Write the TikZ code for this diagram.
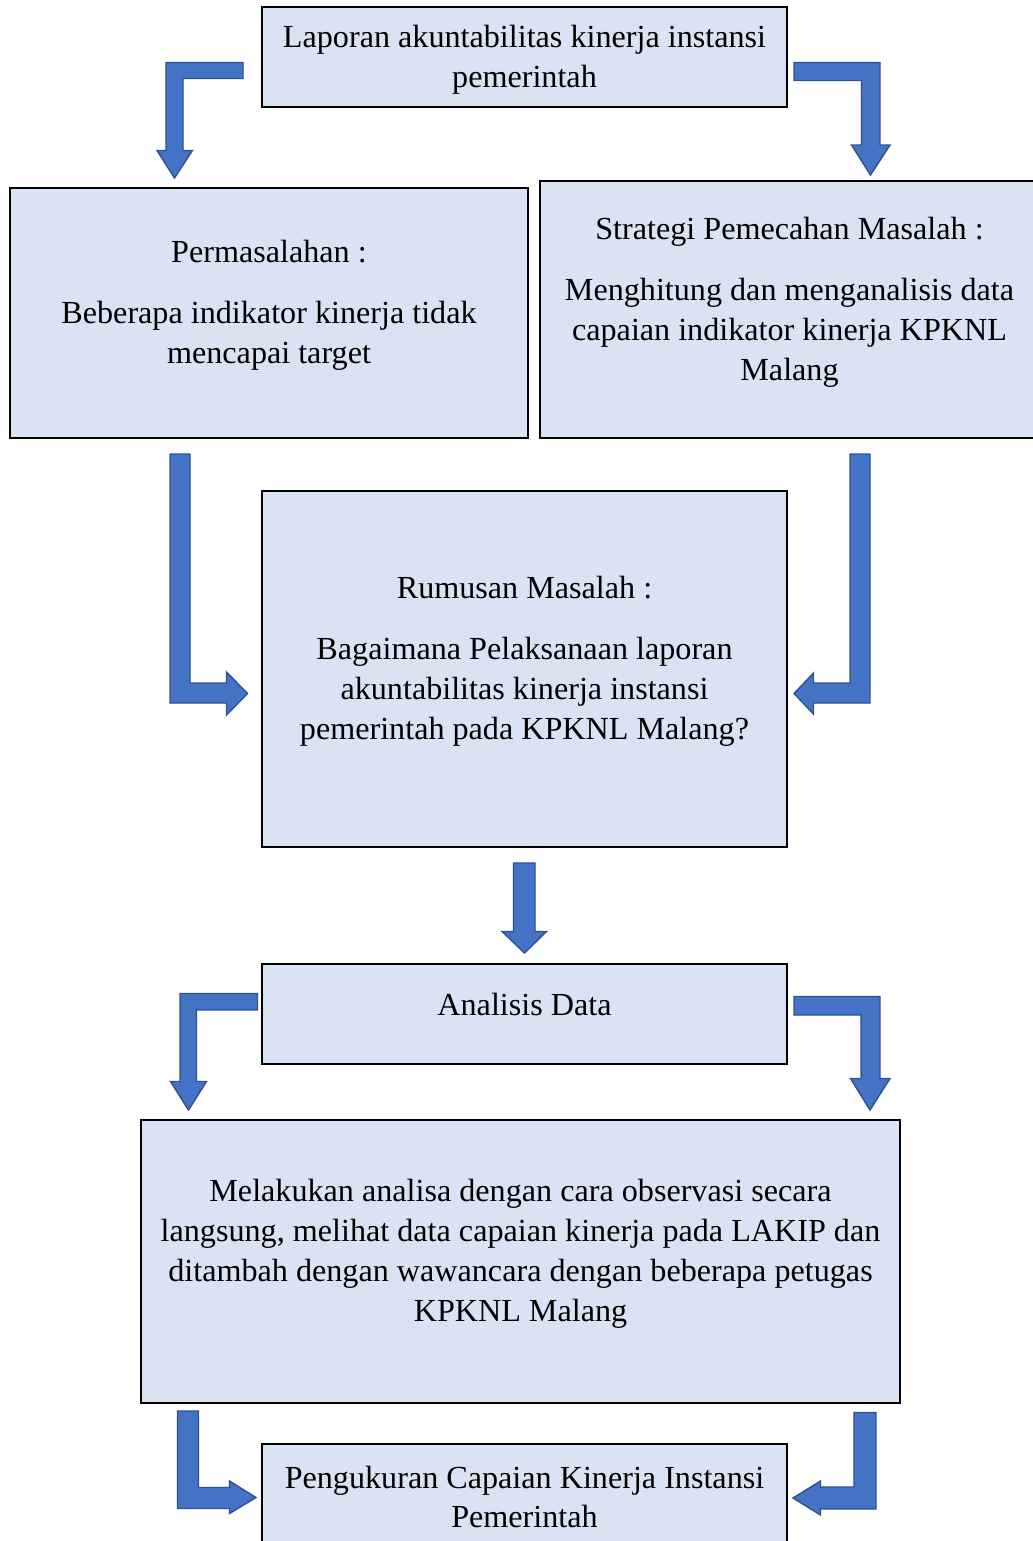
\documentclass[tikz,border=0pt]{standalone}
\usepackage{fontspec}
\setmainfont{Liberation Serif}
\usepackage{tikz}
\usetikzlibrary{calc}
\definecolor{boxfill}{HTML}{DAE3F3}
\definecolor{arrowfill}{HTML}{4472C4}
\definecolor{arrowedge}{HTML}{2F528F}
\tikzset{
	box/.style={draw=black, line width=1.2pt, fill=boxfill, inner sep=0pt},
	txt/.style={align=center, inner sep=0pt, font=\fontsize{18.3}{22.7}\selectfont},
	blockarrow/.style={fill=arrowfill, draw=arrowedge, line width=0.8pt, line join=miter}
}

\begin{document}
\begin{tikzpicture}[x=0.02cm, y=-0.02cm]
	\useasboundingbox (0,0) rectangle (1032,1541);
	% boxes (pixel grid of the reference, y downwards)
	\node[box, minimum width=10.5cm, minimum height=2cm] (laporan) at (524.5,57) {};
	\node[box, minimum width=10.36cm, minimum height=5cm] (masalah) at (269,313) {};
	\node[box, minimum width=9.98cm, minimum height=5.14cm] (strategi) at (789.5,309.5) {};
	\node[box, minimum width=10.5cm, minimum height=7.12cm] (rumusan) at (524.5,669) {};
	\node[box, minimum width=10.5cm, minimum height=2cm] (analisis) at (524.5,1014) {};
	\node[box, minimum width=15.18cm, minimum height=5.66cm] (observasi) at (520.5,1261.5) {};
	\node[box, minimum width=10.5cm, minimum height=2cm] (pengukuran) at (524.5,1494) {};

	\node[txt] (laporantext) at (524.5,60) {Laporan akuntabilitas kinerja instansi\\ pemerintah};
	\node[txt] (masalahtext) at (269,305.5) {Permasalahan :\\[12pt] Beberapa indikator kinerja tidak\\ mencapai target};
	\node[txt] (strategitext) at (789.5,302) {Strategi Pemecahan Masalah :\\[12pt] Menghitung dan menganalisis data\\ capaian indikator kinerja KPKNL\\ Malang};
	\node[txt] (rumusantext) at (524.5,661.5) {Rumusan Masalah :\\[12pt] Bagaimana Pelaksanaan laporan\\ akuntabilitas kinerja instansi\\ pemerintah pada KPKNL Malang?};
	\node[txt] (analisistext) at (524.5,1004) {Analisis Data};
	\node[txt] (observasitext) at (520.5,1253.5) {Melakukan analisa dengan cara observasi secara\\ langsung, melihat data capaian kinerja pada LAKIP dan\\ ditambah dengan wawancara dengan beberapa petugas\\ KPKNL Malang};
	\node[txt] (pengukurantext) at (524.5,1497) {Pengukuran Capaian Kinerja Instansi\\ Pemerintah};

	% bent block arrows
	\draw[blockarrow] (243,62.5) -- (166,62.5) -- (166,150.5) -- (157,150.5) -- (174.5,178) -- (192.5,150.5) -- (183,150.5) -- (183,78.5) -- (243,78.5) -- cycle;
	\draw[blockarrow] (794,62.5) -- (880,62.5) -- (880,145) -- (890,145) -- (870.5,175) -- (851.5,145) -- (861.5,145) -- (861.5,80.5) -- (794,80.5) -- cycle;
	\draw[blockarrow] (170,454) -- (190,454) -- (190,683) -- (226.5,683) -- (226.5,672) -- (247.5,693.5) -- (226.5,715) -- (226.5,703) -- (170,703) -- cycle;
	\draw[blockarrow] (870,454) -- (850,454) -- (850,683) -- (813.5,683) -- (813.5,673) -- (794,693.5) -- (813.5,714) -- (813.5,703) -- (870,703) -- cycle;
	\draw[blockarrow] (513.5,863) -- (535,863) -- (535,931.5) -- (546.5,931.5) -- (524.5,953) -- (502,931.5) -- (513.5,931.5) -- cycle;
	\draw[blockarrow] (257.5,993.5) -- (180,993.5) -- (180,1081.5) -- (170.5,1081.5) -- (188.5,1110) -- (206.5,1081.5) -- (196.5,1081.5) -- (196.5,1010) -- (257.5,1010) -- cycle;
	\draw[blockarrow] (794,996.5) -- (880,996.5) -- (880,1078.5) -- (890,1078.5) -- (870,1110) -- (850.5,1078.5) -- (861,1078.5) -- (861,1015) -- (794,1015) -- cycle;
	\draw[blockarrow] (177.5,1411) -- (198.5,1411) -- (198.5,1487.5) -- (229.5,1487.5) -- (229.5,1481) -- (256,1497.5) -- (229.5,1513.5) -- (229.5,1508.5) -- (177.5,1508.5) -- cycle;
	\draw[blockarrow] (876,1412.5) -- (854,1412.5) -- (854,1487) -- (820.5,1487) -- (820.5,1481) -- (793,1498) -- (820.5,1515) -- (820.5,1509) -- (876,1509) -- cycle;
\end{tikzpicture}
\end{document}
